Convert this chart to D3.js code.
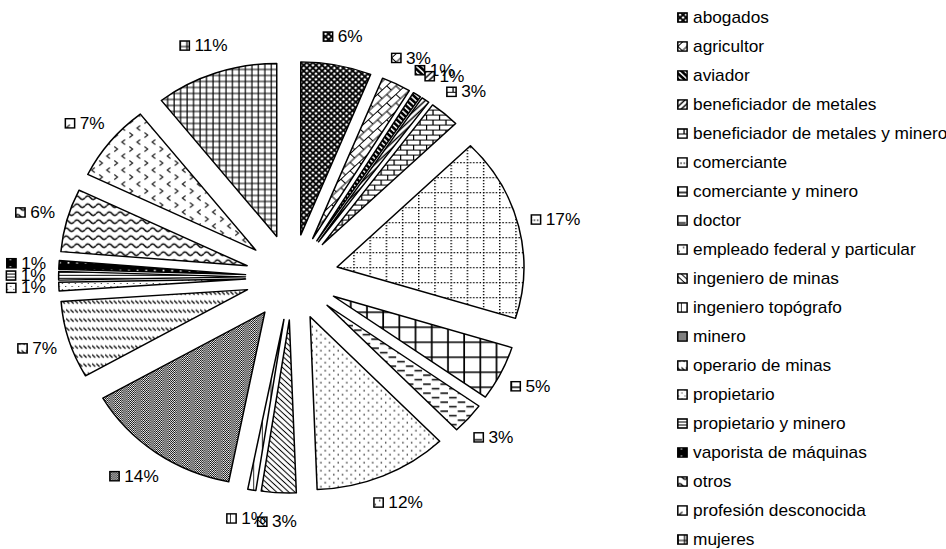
<!DOCTYPE html>
<html>
<head>
<meta charset="utf-8">
<script src="https://cdn.jsdelivr.net/npm/d3@7/dist/d3.min.js"></script>
<style>
  body { margin: 0; background: #fff; }
  text { font-family: Arial, "Liberation Sans", sans-serif; font-size: 16px; fill: #000; }
</style>
</head>
<body>
<div id="chart"></div>
<script>
// shares of each profession (percent), clockwise from 12 o'clock
var categories = ["abogados", "agricultor", "aviador", "beneficiador de metales",
    "beneficiador de metales y minero", "comerciante", "comerciante y minero", "doctor",
    "empleado federal y particular", "ingeniero de minas", "ingeniero topógrafo", "minero",
    "operario de minas", "propietario", "propietario y minero", "vaporista de máquinas",
    "otros", "profesión desconocida", "mujeres"];
var values = [6.1, 2.55, 0.7, 0.7, 2.6, 17.15, 5.1, 2.9, 11.6, 3.0, 0.7, 13.6,
    7.2, 0.8, 0.8, 0.8, 5.9, 7.2, 10.6];

var W = 946, H = 549;
var stretch = 1.08; // the original chart is a bit wider than tall
var cx = 270.3, cy = 277.1, radius = 173, explode = 43;
var labelRx = 228, labelRy = 238;

var data = categories.map(function(c, i) { return { name: c, value: values[i] }; });
var total = d3.sum(values);

var svg = d3.select("#chart").append("svg")
    .attr("width", W)
    .attr("height", H);
var defs = svg.append("defs");
var root = svg.append("g").attr("transform", "scale(" + stretch + ",1)");

// black and white fill patterns, one per slice
function makePattern(i, w, h, rot, bg) {
    var p = defs.append("pattern")
        .attr("id", "pat" + i)
        .attr("patternUnits", "userSpaceOnUse")
        .attr("width", w)
        .attr("height", h);
    if (rot) p.attr("patternTransform", "rotate(" + rot + ")");
    p.append("rect").attr("width", w).attr("height", h).attr("fill", bg || "#fff");
    return p;
}
function stroke(p, d, sw, col) {
    p.append("path").attr("d", d).attr("fill", "none")
        .attr("stroke", col || "#000").attr("stroke-width", sw);
}
function dot(p, x, y, r, col) {
    p.append("circle").attr("cx", x).attr("cy", y).attr("r", r).attr("fill", col || "#000");
}

var p;
p = makePattern(0, 4, 4, 45);  stroke(p, "M0,2H4M2,0V4", 1.8);                       // abogados
p = makePattern(1, 12, 12, -45); stroke(p, "M0,0.5H12M0,6.5H12M0.5,0.5V6.5M6.5,6.5V12", 1); // agricultor
p = makePattern(2, 4, 4, 45);  stroke(p, "M0,2H4", 2.6);                              // aviador
p = makePattern(3, 4, 4, -45); stroke(p, "M0,2H4", 1.4);                              // beneficiador
p = makePattern(4, 12, 10);    stroke(p, "M0,0.5H12M0,5.5H12M0.5,0.5V5.5M6.5,5.5V10", 1.2); // benef. y minero
p = makePattern(5, 15, 15);                                                            // comerciante
for (var k = 0; k < 5; k++) {
    p.append("rect").attr("x", k * 3).attr("y", 0).attr("width", 1.3).attr("height", 1.3);
    p.append("rect").attr("x", 0).attr("y", k * 3).attr("width", 1.3).attr("height", 1.3);
}
p = makePattern(6, 15, 15);    stroke(p, "M0,1H15M1,0V15", 1.6);                      // comerciante y minero
p = makePattern(7, 16, 9);     stroke(p, "M1,2.5H8M9,7H16", 1.6);                     // doctor
p = makePattern(8, 8, 8);      dot(p, 2, 2, 0.75); dot(p, 6, 6, 0.75);                // empleado
p = makePattern(9, 4, 4, 45);  stroke(p, "M0,2H4", 1);                                // ingeniero de minas
p = makePattern(10, 8, 8);     stroke(p, "M4,0V8", 0.8);                              // ingeniero topógrafo
p = makePattern(11, 2, 2);                                                             // minero
p.append("rect").attr("width", 1).attr("height", 1);
p.append("rect").attr("x", 1).attr("y", 1).attr("width", 1).attr("height", 1);
p = makePattern(12, 4, 9);     stroke(p, "M0,2L3,5", 1.2);                            // operario
p = makePattern(13, 6, 6);     dot(p, 1.5, 1.5, 0.6); dot(p, 4.5, 4.5, 0.6);          // propietario
p = makePattern(14, 3, 3);     stroke(p, "M0,1.5H3", 1);                              // propietario y minero
p = makePattern(15, 8, 8, 0, "#000"); dot(p, 4, 4, 1, "#fff");                        // vaporista
p = makePattern(16, 10, 8);    stroke(p, "M0,4Q2.5,0.5 5,4T10,4", 1.3);               // otros
p = makePattern(17, 14, 14);   stroke(p, "M5,1.5L2,4L5,6.5M9,8.5L12,11L9,13.5", 1.1, "#222"); // desconocida
p = makePattern(18, 6, 6);     stroke(p, "M0,1H6M1,0V6", 1.1);                        // mujeres

var pie = d3.pie().sort(null).value(function(d) { return d.value; });
var arcs = pie(data);
var arc = d3.arc().innerRadius(0).outerRadius(radius);

function mid(d) { return (d.startAngle + d.endAngle) / 2; }

// slices, each pushed out along its middle
root.selectAll("path.slice")
    .data(arcs)
    .enter()
    .append("path")
    .attr("class", "slice")
    .attr("transform", function(d) {
        var m = mid(d);
        return "translate(" + (cx + explode * Math.sin(m)) + "," + (cy - explode * Math.cos(m)) + ")";
    })
    .attr("d", arc)
    .attr("fill", function(d, i) { return "url(#pat" + i + ")"; })
    .attr("stroke", "#000")
    .attr("stroke-width", 1.4)
    .attr("stroke-linejoin", "round");

// percent labels with a small key
var fmt = d3.format(".0%");
var labels = root.selectAll("g.lab")
    .data(arcs)
    .enter()
    .append("g")
    .attr("class", "lab");

labels.append("rect")
    .attr("x", 0.7).attr("y", -4.6)
    .attr("width", 8.6).attr("height", 9.2)
    .attr("fill", function(d, i) { return "url(#pat" + i + ")"; })
    .attr("stroke", "#000")
    .attr("stroke-width", 1.4);

labels.append("text")
    .attr("x", 14)
    .attr("dy", "0.35em")
    .text(function(d) { return fmt(d.value / total); });

labels.attr("transform", function(d) {
    var m = mid(d);
    var w = 14 + this.querySelector("text").getComputedTextLength();
    var h = 14;
    var ax = cx + labelRx * Math.sin(m);
    var ay = cy - labelRy * Math.cos(m);
    var bx = ax + w / 2 * Math.sin(m);
    var by = ay - h / 2 * Math.cos(m);
    return "translate(" + (bx - w / 2) + "," + by + ")";
});

// legend
var ly = d3.scalePoint().domain(categories).range([17.5, 539.5]);
var legend = root.selectAll("g.leg")
    .data(categories)
    .enter()
    .append("g")
    .attr("class", "leg")
    .attr("transform", function(d) { return "translate(626.9," + ly(d) + ")"; });

legend.append("rect")
    .attr("x", 0.7).attr("y", -4.6)
    .attr("width", 8.6).attr("height", 9.2)
    .attr("fill", function(d, i) { return "url(#pat" + i + ")"; })
    .attr("stroke", "#000")
    .attr("stroke-width", 1.4);

legend.append("text")
    .attr("x", 14.8)
    .attr("dy", "0.35em")
    .text(function(d) { return d; });
</script>
</body>
</html>
